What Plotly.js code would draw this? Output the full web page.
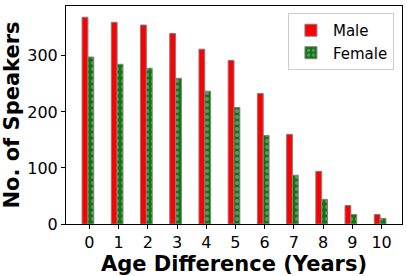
<!DOCTYPE html>
<html>
<head>
<meta charset="utf-8">
<script src="https://cdn.plot.ly/plotly-3.0.1.min.js"></script>
<style>html,body{margin:0;padding:0;background:#fff;}#chart{width:407px;height:276px;}</style>
</head>
<body>
<div id="chart"></div>
<script>
const ageDiff = [0, 1, 2, 3, 4, 5, 6, 7, 8, 9, 10];
const maleCounts = [369, 360, 355, 340, 312, 292, 233, 160, 94, 33, 17];
const femaleCounts = [298, 285, 278, 260, 237, 208, 158, 87, 44, 17, 10];
const yTicks = [0, 100, 200, 300];

const font = 'DejaVu Sans, sans-serif';
const traces = [
  {
    type: 'bar', name: 'Male', x: ageDiff, y: maleCounts,
    width: 0.2, offset: -0.25,
    marker: {color: '#ff0000', line: {color: 'gray', width: 1}}
  },
  {
    type: 'bar', name: 'Female', x: ageDiff, y: femaleCounts,
    width: 0.2, offset: -0.05,
    marker: {color: '#008000', line: {color: 'gray', width: 1},
      pattern: {shape: '.', fgcolor: 'gray', bgcolor: '#008000', size: 6, solidity: 0.35, fillmode: 'replace'}}
  }
];
const layout = {
  width: 407, height: 276,
  margin: {l: 66, r: 5, t: 6, b: 52},
  paper_bgcolor: '#fff', plot_bgcolor: '#fff',
  barmode: 'overlay',
  showlegend: true,
  font: {family: font, color: '#000'},
  xaxis: {
    range: [-0.8, 10.7], tickmode: 'array', tickvals: ageDiff, ticktext: ageDiff.map(String),
    showgrid: false, zeroline: false, showline: true, mirror: true, linecolor: '#000', linewidth: 1,
    ticks: 'outside', ticklen: 4, tickcolor: '#000', tickfont: {size: 16, family: font},
    title: {text: '<b>Age Difference (Years)</b>', font: {size: 21, family: font}, standoff: 8},
    automargin: false
  },
  yaxis: {
    range: [0, 389], tickmode: 'array', tickvals: yTicks, ticktext: yTicks.map(String),
    showgrid: false, zeroline: false, showline: true, mirror: true, linecolor: '#000', linewidth: 1,
    ticks: 'outside', ticklen: 4, tickcolor: '#000', tickfont: {size: 16, family: font},
    title: {text: '<b>No. of Speakers</b>', font: {size: 21, family: font}, standoff: 3},
    automargin: false
  },
  legend: {
    x: 0.976, y: 0.968, xanchor: 'right', yanchor: 'top',
    bordercolor: '#cccccc', borderwidth: 1, bgcolor: 'rgba(255,255,255,0.8)',
    font: {size: 15, family: font}, traceorder: 'normal', itemwidth: 34
  }
};
Plotly.newPlot('chart', traces, layout, {staticPlot: true, displayModeBar: false});
</script>
</body>
</html>
